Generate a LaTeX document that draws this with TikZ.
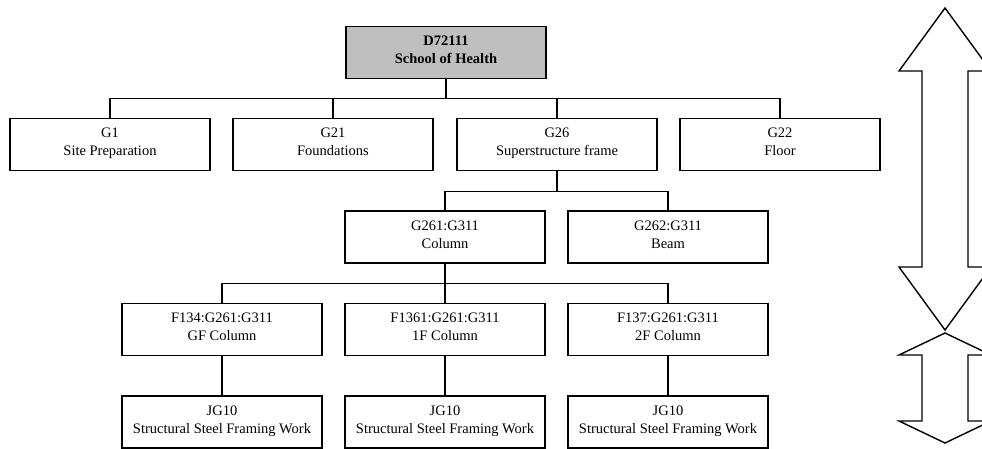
\documentclass[tikz,border=0pt]{standalone}
\usepackage{fontspec}
\setmainfont{Liberation Serif}
\usetikzlibrary{calc}
\def\twowayarrow[#1](#2)(#3:#4:#5){\draw[#1] (#2,#3) -- (#2+46,#3+#5) -- (#2+23,#3+#5) -- (#2+23,#4-#5) -- (#2+46,#4-#5) -- (#2,#4) -- (#2-46,#4-#5) -- (#2-23,#4-#5) -- (#2-23,#3+#5) -- (#2-46,#3+#5) -- cycle;}

\tikzset{
	wbs/.style={draw, line width=1.4pt, minimum width=200pt, minimum height=52pt, inner sep=0pt, align=center, font=\fontsize{14.5}{18}\selectfont, execute at begin node=\strut, execute at end node=\strut},
	wbstop/.style={wbs, fill=black!25, font=\fontsize{14.5}{18}\selectfont\bfseries},
	link/.style={line width=1.4pt},
}

\begin{document}
\begin{tikzpicture}[x=1pt, y=-1pt]
		%%%%% START %%%%%
		\clip (0, 0) rectangle (982, 448);
		
		\node[wbstop] (d72111) at (446, 52.5) {D72111\\School of Health};
		
		\node[wbs] (g1) at (110, 144.5) {G1\\Site Preparation};
		\node[wbs] (g21) at (333, 144.5) {G21\\Foundations};
		\node[wbs] (g26) at (557, 144.5) {G26\\Superstructure frame};
		\node[wbs] (g22) at (780, 144.5) {G22\\Floor};
		
		\node[wbs] (g261) at (445, 237) {G261:G311\\Column};
		\node[wbs] (g262) at (668, 237) {G262:G311\\Beam};
		
		\node[wbs] (f134) at (222, 329.5) {F134:G261:G311\\GF Column};
		\node[wbs] (f1361) at (445, 329.5) {F1361:G261:G311\\1F Column};
		\node[wbs] (f137) at (668, 329.5) {F137:G261:G311\\2F Column};
		
		\node[wbs] (jg10a) at (222, 422) {JG10\\Structural Steel Framing Work};
		\node[wbs] (jg10b) at (445, 422) {JG10\\Structural Steel Framing Work};
		\node[wbs] (jg10c) at (668, 422) {JG10\\Structural Steel Framing Work};
		
		\foreach \c in {g1, g21, g26, g22}
			\draw[link] (d72111.south) -- ++(0, 19.5) -| (\c.north);
		\foreach \c in {g261, g262}
			\draw[link] (g26.south) -- ++(0, 20) -| (\c.north);
		\foreach \c in {f134, f1361, f137}
			\draw[link] (g261.south) -- ++(0, 20) -| (\c.north);
		
		\draw[link] (f134.south) -- (jg10a.north);
		\draw[link] (f1361.south) -- (jg10b.north);
		\draw[link] (f137.south) -- (jg10c.north);
		
		\twowayarrow[line width=1.4pt](945)(8:330:63)
		\twowayarrow[line width=1.4pt](945)(333:443:22)
		
		%%%%% END %%%%%
	\end{tikzpicture}
\end{document}
